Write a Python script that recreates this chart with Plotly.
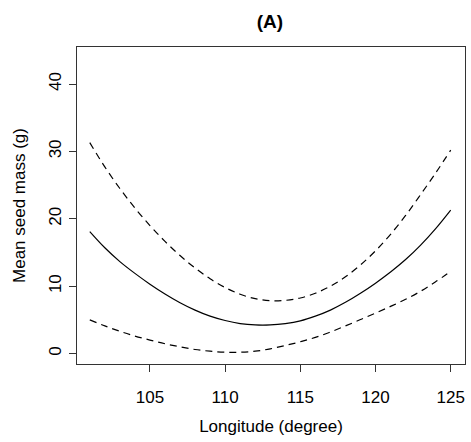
import plotly.graph_objects as go

longitude = [101, 102, 103, 104, 105, 106, 107, 108, 109, 110, 111, 112, 113,
             114, 115, 116, 117, 118, 119, 120, 121, 122, 123, 124, 125]
fit = [18.1, 15.7, 13.65, 11.9, 10.3, 8.85, 7.55, 6.45, 5.55, 4.9, 4.45, 4.25, 4.25,
       4.45, 4.85, 5.55, 6.45, 7.6, 8.95, 10.45, 12.1, 13.95, 16.1, 18.55, 21.3]
upper = [31.3, 27.7, 24.5, 21.6, 19.0, 16.65, 14.55, 12.7, 11.1, 9.8, 8.8, 8.15, 7.85,
         7.9, 8.25, 8.95, 10.0, 11.4, 13.15, 15.25, 17.7, 20.5, 23.6, 26.8, 30.2]
lower = [5.0, 4.1, 3.3, 2.6, 2.0, 1.45, 1.0, 0.6, 0.35, 0.2, 0.2, 0.35, 0.7,
         1.2, 1.75, 2.4, 3.2, 4.1, 5.05, 6.0, 7.0, 8.05, 9.25, 10.65, 12.2]

x_ticks = [105, 110, 115, 120, 125]
y_ticks = [0, 10, 20, 30, 40]

FONT = "Liberation Sans, Arial, sans-serif"

fig = go.Figure()
fig.add_trace(go.Scatter(x=longitude, y=upper, mode="lines",
                         line=dict(color="black", width=1.2, dash="7px,5px", shape="spline"), showlegend=False))
fig.add_trace(go.Scatter(x=longitude, y=fit, mode="lines",
                         line=dict(color="black", width=1.2, shape="spline"), showlegend=False))
fig.add_trace(go.Scatter(x=longitude, y=lower, mode="lines",
                         line=dict(color="black", width=1.2, dash="7px,5px", shape="spline"), showlegend=False))

fig.update_layout(
    width=471, height=442,
    margin=dict(l=77, r=6, t=47, b=78),
    paper_bgcolor="white", plot_bgcolor="white",
    font=dict(family=FONT, size=17, color="black"),
    title=dict(text="<b>(A)</b>", x=0.573, xanchor="center", y=0.952, yanchor="middle", font=dict(size=19)),
    xaxis=dict(
        range=[100.15, 125.95], tickvals=x_ticks, ticktext=[str(v) for v in x_ticks],
        showgrid=False, zeroline=False, showline=True, mirror=True, linecolor="#333", linewidth=1.2,
        ticks="outside", ticklen=7, tickcolor="#333", ticklabelstandoff=10,
        title=dict(text="Longitude (degree)", standoff=14, font=dict(size=17)),
    ),
    yaxis=dict(
        range=[-1.55, 45.5], tickvals=y_ticks, ticktext=[str(v) for v in y_ticks],
        showgrid=False, zeroline=False, showline=True, mirror=True, linecolor="#333", linewidth=1.2,
        ticks="outside", ticklen=7, tickcolor="#333", tickangle=-90, ticklabelstandoff=1,
        title=dict(text="Mean seed mass (g)", standoff=16, font=dict(size=17)),
    ),
)

fig.write_html("out.html", config={"displayModeBar": False},
               post_script="document.body.style.margin='0';document.body.style.padding='0';")
